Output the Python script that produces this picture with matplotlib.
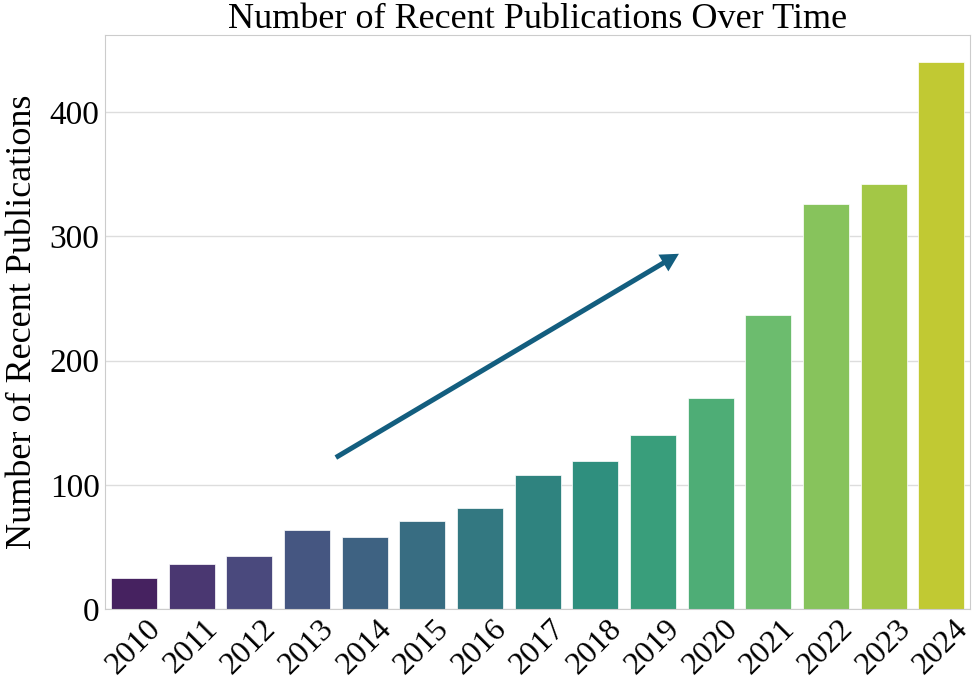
import matplotlib
matplotlib.use('Agg')
import matplotlib.pyplot as plt
import seaborn as sns

years = ['2010', '2011', '2012', '2013', '2014', '2015', '2016', '2017',
         '2018', '2019', '2020', '2021', '2022', '2023', '2024']
counts = [25, 36, 43, 64, 58, 71, 81, 108, 119, 140, 170, 237, 326, 342, 440]

sns.set_style('whitegrid')
plt.rcParams['font.family'] = ['Liberation Serif', 'DejaVu Serif']
plt.rcParams['text.color'] = 'black'
plt.rcParams['axes.labelcolor'] = 'black'
plt.rcParams['xtick.color'] = 'black'
plt.rcParams['ytick.color'] = 'black'

fig, ax = plt.subplots(figsize=(9.74, 6.89), dpi=100)
colors = [sns.desaturate(c, 0.75) for c in sns.color_palette('viridis', len(years))]
ax.bar(range(len(years)), counts, width=0.8, color=colors, edgecolor='white', linewidth=0.5)

ax.set_xlim(-0.5, len(years) - 0.5)
ax.set_xticks(range(len(years)))
ax.set_xticklabels(years, rotation=45, fontsize=23)
ax.tick_params(axis='y', labelsize=24)
ax.tick_params(axis='both', length=0, pad=4)
ax.set_yticks([0, 100, 200, 300, 400])
ax.grid(axis='x', visible=False)
ax.grid(axis='y', color='#dddddd', linewidth=1)
ax.set_axisbelow(True)
for s in ax.spines.values():
    s.set_color('#cccccc')

ax.set_ylabel('Number of Recent Publications', fontsize=26, labelpad=8)
ax.set_title('Number of Recent Publications Over Time', fontsize=26, pad=5)

# trend arrow
ax.annotate('', xy=(9.45, 286), xytext=(3.5, 122),
            arrowprops=dict(width=3.6, headwidth=14, headlength=13, shrink=0,
                            facecolor='#135e7f', edgecolor='none'))

plt.subplots_adjust(left=0.108, right=0.996, top=0.949, bottom=0.116)
plt.savefig('out.png', dpi=100)
plt.close()
